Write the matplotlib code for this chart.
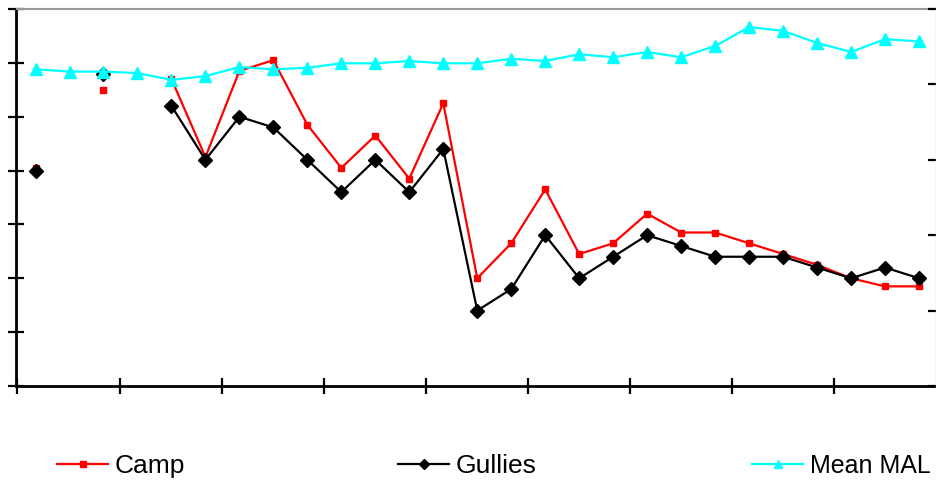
import numpy as np
import matplotlib
matplotlib.use("Agg")
import matplotlib.pyplot as plt
from matplotlib.lines import Line2D

plt.rcParams['font.family'] = ['Liberation Sans', 'DejaVu Sans']

nan = np.nan
# 27 consecutive observations
periods = list(range(27))

camp = [40.5, nan, 55, nan, 57, 42.5, 58.5, 60.5, 48.5, 40.5, 46.5, 38.5, 52.5,
        20, 26.5, 36.5, 24.5, 26.5, 32, 28.5, 28.5, 26.5, 24.5, 22.5, 20, 18.5, 18.5]
gullies = [40, nan, 58, nan, 52, 42, 50, 48, 42, 36, 42, 36, 44,
           14, 18, 28, 20, 24, 28, 26, 24, 24, 24, 22, 20, 22, 20]
mean_mal = [420, 417, 417, 415, 406, 411, 423, 420, 422, 428, 428, 431, 428,
            428, 434, 431, 440, 436, 443, 436, 451, 476, 471, 455, 443, 460, 457]

series_names = ["Camp", "Gullies", "Mean MAL"]

W, H = 937, 480
fig = plt.figure(figsize=(W / 100, H / 100), dpi=100)
x0, x1, y0, y1 = 16.5, 936, 9, 386
ax = fig.add_axes([x0 / W, 1 - y1 / H, (x1 - x0) / W, (y1 - y0) / H])

ax.plot(periods, camp, color="#ff0000", lw=1.6, marker="s", ms=3.8,
        mec="#ff0000", mfc="#ff0000", zorder=2)
ax.plot(periods, gullies, color="black", lw=1.6, marker="D", ms=6.8,
        mec="black", mfc="black", zorder=3)

ax.set_xlim(-0.56, 26.5)
ax.set_ylim(0, 70)
ax.set_yticks(np.arange(0, 71, 10))
ax.set_xticks([-0.56] + [2.5 + 3 * k for k in range(8)])
ax.tick_params(axis="y", direction="inout", length=12, width=1.6, color="black",
               labelleft=False)
ax.tick_params(axis="x", direction="inout", length=11, width=1.6, color="black",
               labelbottom=False)
for side in ("left", "bottom"):
    ax.spines[side].set_linewidth(2)
    ax.spines[side].set_color("black")
ax.spines["top"].set_color("#999999")
ax.spines["top"].set_linewidth(1.5)
ax.spines["right"].set_visible(False)

ax2 = ax.twinx()
ax2.plot(periods, mean_mal, color="#00ffff", lw=1.6, marker="^", ms=8,
         mec="#00ffff", mfc="#00ffff", zorder=4)
ax2.set_ylim(0, 500)
ax2.set_yticks(np.arange(0, 501, 100))
ax2.tick_params(axis="y", direction="in", length=6, width=1.6, color="black",
                labelright=False)
for side in ("left", "top", "bottom"):
    ax2.spines[side].set_visible(False)
ax2.spines["right"].set_color("#d8d8d8")
ax2.spines["right"].set_linewidth(1)

# legend entries laid out along the bottom
handles = [
    Line2D([], [], color="#ff0000", lw=1.6, marker="s", ms=4.5, mec="#ff0000", mfc="#ff0000"),
    Line2D([], [], color="black", lw=1.6, marker="D", ms=5, mec="black", mfc="black"),
    Line2D([], [], color="#00ffff", lw=1.6, marker="^", ms=6, mec="#00ffff", mfc="#00ffff"),
]
anchors = [57, 398, 752]
sizes = [19, 19, 18]
for h, name, ax_px, fs in zip(handles, series_names, anchors, sizes):
    fig.legend([h], [name], loc="center left", bbox_to_anchor=(ax_px / W, 1 - 466 / H),
               frameon=False, fontsize=fs, handlelength=1.95 * 19 / fs,
               handletextpad=0.25, borderpad=0, borderaxespad=0)

fig.savefig("out.png", dpi=100)
